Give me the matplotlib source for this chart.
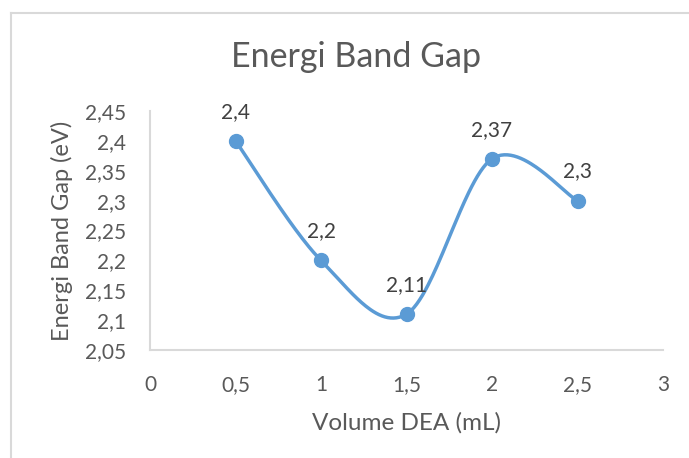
import matplotlib
matplotlib.use("Agg")
import matplotlib.pyplot as plt
from matplotlib.lines import Line2D
import numpy as np

plt.rcParams["font.family"] = ["Lato", "DejaVu Sans"]

volume = [0.5, 1.0, 1.5, 2.0, 2.5]
band_gap = [2.40, 2.20, 2.11, 2.37, 2.30]
x_ticks = [0, 0.5, 1, 1.5, 2, 2.5, 3]
y_ticks = [2.05, 2.10, 2.15, 2.20, 2.25, 2.30, 2.35, 2.40, 2.45]

blue = "#5B9BD5"
text_gray = "#595959"
label_gray = "#404040"
axis_gray = "#D9D9D9"


def comma(v):
    s = ("%.2f" % v).rstrip("0").rstrip(".")
    return s.replace(".", ",")


def smooth_curve(xs, ys, n=60):
    # bezier smoothing with catmull-rom style control points
    pts = np.column_stack([xs, ys])
    out = []
    for i in range(len(pts) - 1):
        p0 = pts[max(i - 1, 0)]
        p1 = pts[i]
        p2 = pts[i + 1]
        p3 = pts[min(i + 2, len(pts) - 1)]
        c1 = p1 + (p2 - p0) / 6.0
        c2 = p2 - (p3 - p1) / 6.0
        t = np.linspace(0, 1, n)[:, None]
        seg = ((1 - t) ** 3) * p1 + 3 * ((1 - t) ** 2) * t * c1 \
            + 3 * (1 - t) * (t ** 2) * c2 + (t ** 3) * p2
        out.append(seg)
    return np.vstack(out)


fig = plt.figure(figsize=(6.89, 4.58), dpi=100)
ax = fig.add_axes([150 / 689, 1 - 350 / 458, 513 / 689, 239 / 458])

xmin, xmax = 0, 3
ymin, ymax = 2.05, 2.45
ax.set_xlim(xmin, xmax)
ax.set_ylim(ymin, ymax)

# smooth in axes-fraction space so the curve shape follows the screen
fx = (np.array(volume) - xmin) / (xmax - xmin) * 513
fy = (np.array(band_gap) - ymin) / (ymax - ymin) * 239
curve = smooth_curve(fx, fy)
cx = curve[:, 0] / 513 * (xmax - xmin) + xmin
cy = curve[:, 1] / 239 * (ymax - ymin) + ymin

ax.plot(cx, cy, color=blue, lw=2.5, solid_capstyle="round", zorder=2)
ax.plot(volume, band_gap, "o", color=blue, ms=10, zorder=3)

for x, y in zip(volume, band_gap):
    ax.annotate(comma(y), (x, y), xytext=(0, 21), textcoords="offset points",
                ha="center", va="center", fontsize=15, color=label_gray)

ax.set_xticks(x_ticks)
ax.set_xticklabels([comma(v) for v in x_ticks])
ax.set_yticks(y_ticks)
ax.set_yticklabels([comma(v) for v in y_ticks])
ax.tick_params(length=0, labelsize=15, labelcolor=text_gray)
ax.tick_params(axis="x", pad=18)
ax.tick_params(axis="y", pad=17)

for side in ["top", "right"]:
    ax.spines[side].set_visible(False)
for side in ["left", "bottom"]:
    ax.spines[side].set_color(axis_gray)
    ax.spines[side].set_linewidth(1.5)

ax.set_xlabel("Volume DEA (mL)", fontsize=17.5, color=text_gray, labelpad=12)
ax.set_ylabel("Energi Band Gap (eV)", fontsize=17, color=text_gray, labelpad=9)
fig.text(356 / 689, 1 - 57 / 458, "Energi Band Gap", ha="center", va="center",
         fontsize=24.5, color=text_gray)

# chart area border
fig.add_artist(Line2D([10.5 / 689, 10.5 / 689], [0, 1 - 13 / 458],
                      transform=fig.transFigure, color=axis_gray, lw=1.5))
fig.add_artist(Line2D([10.5 / 689, 1], [1 - 13 / 458, 1 - 13 / 458],
                      transform=fig.transFigure, color=axis_gray, lw=1.5))

fig.savefig("out.png", dpi=100)
